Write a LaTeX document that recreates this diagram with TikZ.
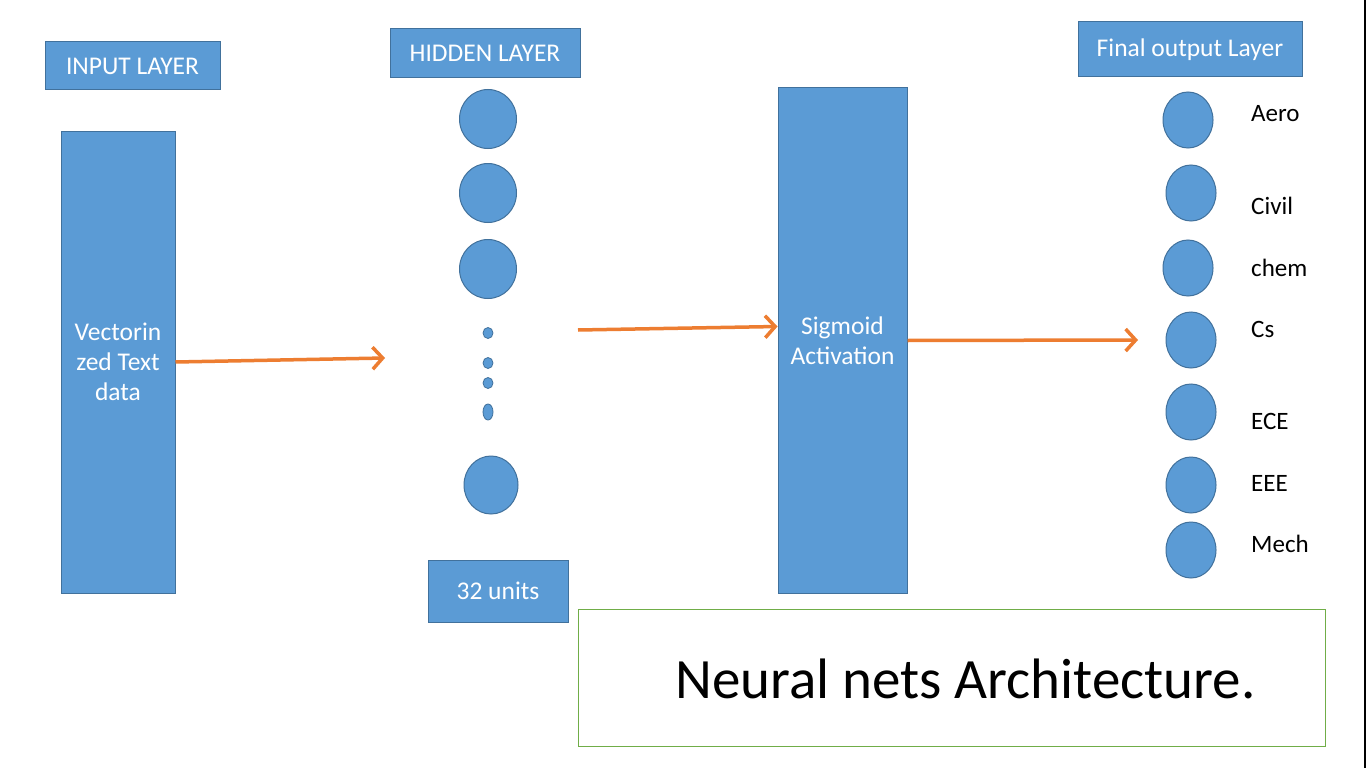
\documentclass[tikz,border=0pt]{standalone}
\usepackage{fontspec}
\setmainfont{Carlito}
\usetikzlibrary{shapes.geometric,arrows.meta}
\definecolor{azul}{HTML}{5B9BD5}
\definecolor{borde}{HTML}{41719C}
\definecolor{naranja}{HTML}{ED7D31}
\definecolor{verde}{HTML}{70AD47}
\tikzset{
  caja/.style={draw=borde,fill=azul,line width=1pt,text=white,inner sep=0pt,
    align=center,font=\fontsize{25.5}{30}\selectfont},
  neurona/.style={ellipse,draw=borde,fill=azul,line width=1pt,inner sep=0pt},
  etiqueta/.style={anchor=west,inner sep=0pt,font=\fontsize{25}{28}\selectfont},
  flecha/.style={naranja,line width=3.5pt,-{Straight Barb[length=10pt,width=22pt,line width=3.5pt]}}
}
\begin{document}
\begin{tikzpicture}[x=1pt,y=-1pt]
    \fill[white] (0,0) rectangle (1366,768);
    \useasboundingbox (0,0) rectangle (1366,768);
    \draw[black,line width=2pt] (1365,0) -- (1365,768);
    % Capas
    \node[caja,minimum width=175pt,minimum height=48pt] (inlbl) at (132.5,66) {INPUT LAYER};
    \node[caja,minimum width=190pt,minimum height=49pt] (hidlbl) at (485,53.5) {HIDDEN LAYER};
    \node[caja,minimum width=224pt,minimum height=55pt] (outlbl) at (1190,49.5) {Final output Layer};
    \node[caja,minimum width=114pt,minimum height=462pt] (vec) at (118,362) {Vectorin\\zed Text\\data};
    \node[caja,minimum width=140pt,minimum height=62pt] (units) at (498,591) {32 units};
    \node[caja,minimum width=129pt,minimum height=505pt] (sig) at (842.5,340.5) {Sigmoid\\Activation};
    % Oculta
    \foreach \y [count=\i] in {119,193,269}
      \node[neurona,minimum width=57pt,minimum height=59pt] (h\i) at (488,\y) {};
    \node[neurona,minimum width=54pt,minimum height=58pt] (h4) at (491,485) {};
    \foreach \y/\hgt [count=\i] in {333/11,363/11,383/11,412/16}
      \node[neurona,line width=0.8pt,minimum width=10pt,minimum height=\hgt pt] (dot\i) at (488,\y) {};
    % Salida
    \foreach \x/\y/\t/\ty [count=\i] in {1188/120/Aero/114,1191/193/Civil/206,1188/268/chem/268,
        1191/340/Cs/329,1191/412/ECE/421,1191/485/EEE/483,1191/550/Mech/544}
    {
      \node[neurona,minimum width=50pt,minimum height=56pt] (o\i) at (\x,\y) {};
      \node[etiqueta] (t\i) at (1251,\ty) {\t};
    }
    % Flechas
    \coordinate (f1) at (385,358);
    \coordinate (f2) at (578,330);
    \coordinate (f3) at (1138,340);
    \draw[flecha] (vec.east) -- (f1);
    \draw[flecha] (f2) -- ([yshift=14pt]sig.west);
    \draw[flecha] (sig.east) -- (f3);
    % Titulo
    \node[draw=verde,line width=1pt,minimum width=747pt,minimum height=137pt,inner sep=0pt] (marco) at (951.5,677.5) {};
    \node[anchor=west,inner sep=0pt,font=\fontsize{57}{60}\selectfont] (titulo) at (675,679) {Neural nets Architecture.};
  \end{tikzpicture}
\end{document}
